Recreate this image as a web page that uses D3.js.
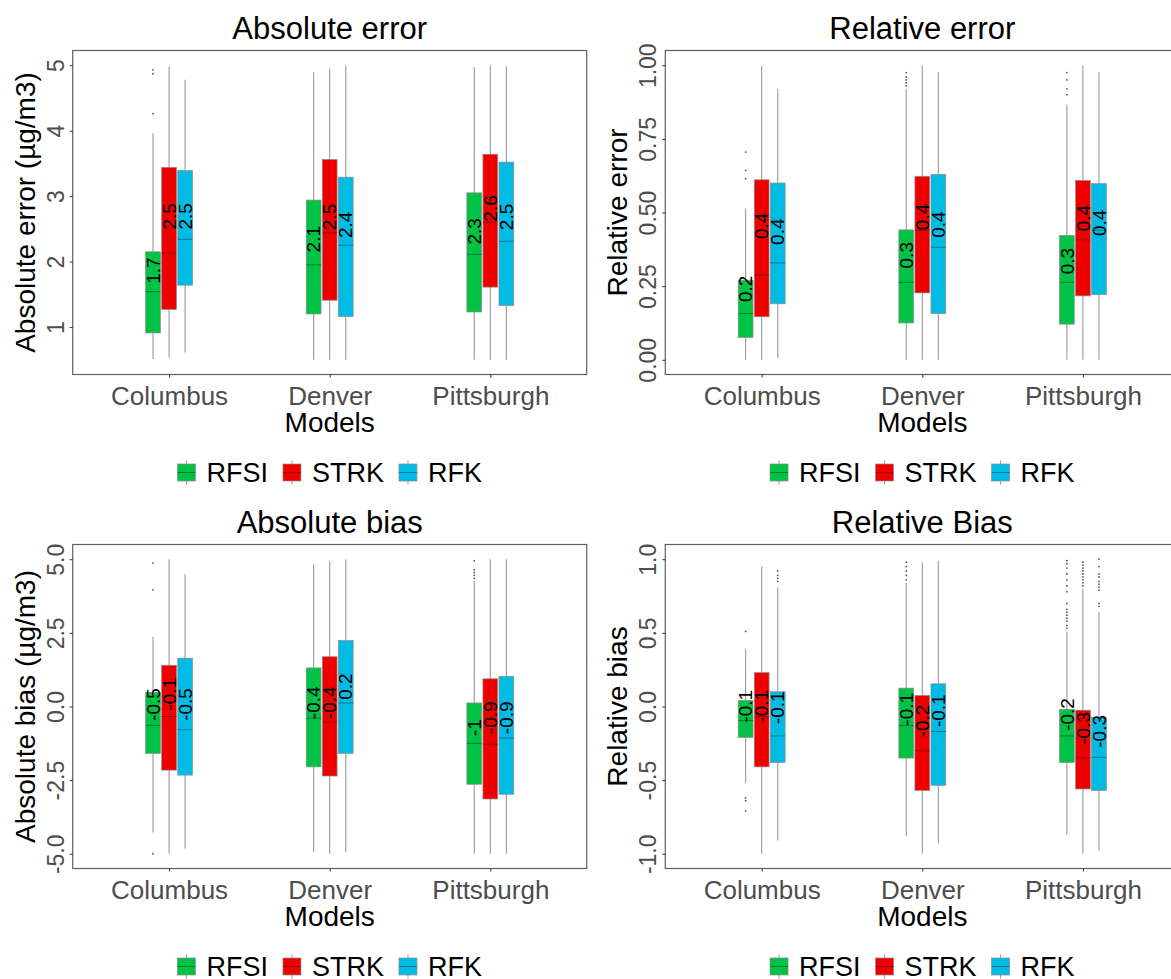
<!DOCTYPE html>
<html>
<head>
<meta charset="utf-8">
<script src="https://cdn.jsdelivr.net/npm/d3@7"></script>
<style>
body { margin: 0; background: #fff; }
svg { display: block; font-family: "Liberation Sans", Arial, sans-serif; }
</style>
</head>
<body>
<div class="viz"></div>
<script>
const width = 1171;
const height = 979;

const cities = ["Columbus", "Denver", "Pittsburgh"];
const models = ["RFSI", "STRK", "RFK"];
const colors = ["#00c244", "#ee0000", "#00bce4"];

// box stats: [lower whisker, q1, median, q3, upper whisker], order = city then model
const absErrBox = [
    [0.51, 0.91, 1.54, 2.15, 3.96],
    [0.53, 1.27, 2.13, 3.44, 4.98],
    [0.61, 1.64, 2.34, 3.39, 4.78],
    [0.50, 1.20, 1.95, 2.94, 4.89],
    [0.50, 1.41, 2.44, 3.56, 4.95],
    [0.50, 1.16, 2.25, 3.29, 5.00],
    [0.50, 1.23, 2.11, 3.05, 4.97],
    [0.50, 1.61, 2.60, 3.64, 5.00],
    [0.50, 1.33, 2.31, 3.52, 4.98]
];
const absErrMean = [1.66, 2.49, 2.49, 2.14, 2.48, 2.36, 2.26, 2.61, 2.48];
const absErrOut = [[4.26, 4.87, 4.93], [], [], [], [], [], [], [], []];
const absErrTicks = [1, 2, 3, 4, 5];

const relErrBox = [
    [0.00, 0.076, 0.157, 0.27, 0.513],
    [0.00, 0.146, 0.288, 0.611, 0.997],
    [0.006, 0.19, 0.329, 0.60, 0.92],
    [0.00, 0.125, 0.263, 0.441, 0.92],
    [0.00, 0.227, 0.44, 0.623, 1.00],
    [0.00, 0.157, 0.382, 0.629, 0.976],
    [0.00, 0.121, 0.263, 0.422, 0.867],
    [0.00, 0.217, 0.407, 0.609, 1.00],
    [0.00, 0.221, 0.44, 0.598, 0.976]
];
const relErrMean = [0.196, 0.41, 0.39, 0.31, 0.44, 0.414, 0.29, 0.436, 0.42];
const relErrOut = [[0.615, 0.643, 0.705], [], [], [0.93, 0.94, 0.95, 0.96, 0.975], [], [], [0.90, 0.92, 0.95, 0.975], [], []];
const relErrTicks = [0, 0.25, 0.5, 0.75, 1];

const absBiasBox = [
    [-4.28, -1.59, -0.64, 0.48, 2.37],
    [-5.00, -2.16, -0.34, 1.40, 5.00],
    [-4.83, -2.33, -0.79, 1.64, 4.49],
    [-4.94, -2.05, -0.40, 1.31, 4.83],
    [-5.00, -2.36, -0.53, 1.69, 4.94],
    [-4.94, -1.59, 0.12, 2.24, 5.00],
    [-5.00, -2.64, -1.25, 0.12, 4.26],
    [-5.00, -3.14, -1.28, 0.94, 5.00],
    [-5.00, -2.98, -1.07, 1.02, 5.00]
];
const absBiasMean = [-0.49, -0.14, -0.49, -0.43, -0.43, 0.23, -1.0, -0.94, -0.94];
const absBiasOut = [[3.96, 4.87, -5.0], [], [], [], [], [], [4.35, 4.45, 4.55, 4.65, 4.95], [], []];
const absBiasTicks = [-5, -2.5, 0, 2.5, 5];

const relBiasBox = [
    [-0.52, -0.21, -0.095, 0.041, 0.39],
    [-1.00, -0.41, -0.07, 0.23, 0.95],
    [-0.91, -0.38, -0.20, 0.10, 0.81],
    [-0.88, -0.35, -0.13, 0.125, 0.84],
    [-1.00, -0.57, -0.30, 0.075, 0.98],
    [-0.93, -0.535, -0.17, 0.154, 0.99],
    [-0.87, -0.38, -0.20, -0.02, 0.51],
    [-1.00, -0.56, -0.35, -0.025, 0.80],
    [-0.98, -0.57, -0.345, -0.073, 0.64]
];
const relBiasMean = [-0.11, -0.11, -0.12, -0.13, -0.21, -0.14, -0.165, -0.26, -0.28];
const relBiasOut = [
    [0.51, -0.62, -0.64, -0.71], [], [0.85, 0.87, 0.89, 0.92],
    [0.86, 0.89, 0.92, 0.95, 0.98], [], [],
    [0.53, 0.55, 0.58, 0.60, 0.62, 0.64, 0.66, 0.70, 0.78, 0.82, 0.86, 0.90, 0.94, 0.97, 0.99],
    [0.82, 0.84, 0.86, 0.88, 0.90, 0.92, 0.94, 0.96, 0.98],
    [0.68, 0.70, 0.79, 0.81, 0.83, 0.85, 0.88, 0.90, 0.95, 1.00]
];
const relBiasTicks = [-1, -0.5, 0, 0.5, 1];

// panel frames
const pw = 514, ph = 324;
const panels = [
    { title: "Absolute error", ylab: "Absolute error (\u00b5g/m3)", box: absErrBox, mean: absErrMean, out: absErrOut, ticks: absErrTicks, fmt: d => String(d), x0: 72.7, y0: 50.5 },
    { title: "Relative error", ylab: "Relative error", box: relErrBox, mean: relErrMean, out: relErrOut, ticks: relErrTicks, fmt: d => d.toFixed(2), x0: 665.3, y0: 50.5 },
    { title: "Absolute bias", ylab: "Absolute bias (\u00b5g/m3)", box: absBiasBox, mean: absBiasMean, out: absBiasOut, ticks: absBiasTicks, fmt: d => d.toFixed(1), x0: 72.7, y0: 544.5 },
    { title: "Relative Bias", ylab: "Relative bias", box: relBiasBox, mean: relBiasMean, out: relBiasOut, ticks: relBiasTicks, fmt: d => d.toFixed(1), x0: 665.3, y0: 544.5 }
];

const svg = d3.select(".viz")
    .append("svg")
    .attr("width", width)
    .attr("height", height);

svg.append("rect").attr("width", width).attr("height", height).attr("fill", "#fff");

function drawPanel(p) {
    const x1 = p.x0 + pw, y1 = p.y0 + ph;
    const cx0 = p.x0 + pw / 2;
    const g = svg.append("g");

    // y range like ggplot: data range + 5%
    const all = p.box.flat().concat(p.out.flat());
    const [lo, hi] = d3.extent(all);
    const pad = (hi - lo) * 0.05;
    const y = d3.scaleLinear().domain([lo - pad, hi + pad]).range([y1, p.y0]);
    const x = d3.scalePoint().domain(cities).range([p.x0, x1]).padding(0.6);
    const step = x.step();
    const dodge = 0.1 * step, bw = 0.092 * step;

    const rows = p.box.map((b, i) => ({
        city: cities[Math.floor(i / 3)], m: i % 3, b: b, mean: p.mean[i], out: p.out[i]
    }));
    const cx = d => x(d.city) + (d.m - 1) * dodge;

    g.append("rect")
        .attr("x", p.x0).attr("y", p.y0)
        .attr("width", pw).attr("height", ph)
        .attr("fill", "#fff")
        .attr("stroke", "#5f5f5f")
        .attr("stroke-width", 1.2);

    // whiskers
    g.selectAll(".whisker")
        .data(rows)
        .join("line")
        .attr("x1", cx).attr("x2", cx)
        .attr("y1", d => y(d.b[0]))
        .attr("y2", d => y(d.b[4]))
        .attr("stroke", "#999")
        .attr("stroke-width", 1.1);

    // boxes
    g.selectAll(".box")
        .data(rows)
        .join("rect")
        .attr("x", d => cx(d) - bw / 2)
        .attr("width", bw)
        .attr("y", d => y(d.b[3]))
        .attr("height", d => y(d.b[1]) - y(d.b[3]))
        .attr("fill", d => colors[d.m])
        .attr("stroke", "#8c8c8c")
        .attr("stroke-width", 0.7);

    // medians
    g.selectAll(".median")
        .data(rows)
        .join("line")
        .attr("x1", d => cx(d) - bw / 2)
        .attr("x2", d => cx(d) + bw / 2)
        .attr("y1", d => y(d.b[2]))
        .attr("y2", d => y(d.b[2]))
        .attr("stroke", "rgba(0,0,0,0.35)")
        .attr("stroke-width", 1);

    // outliers
    const pts = rows.flatMap(d => d.out.map(v => ({ px: cx(d), v: v })));
    g.selectAll(".outlier")
        .data(pts)
        .join("circle")
        .attr("cx", d => d.px)
        .attr("cy", d => y(d.v))
        .attr("r", 0.9)
        .attr("fill", "#555");

    // mean labels, rotated, starting at the mean
    g.selectAll(".meanlab")
        .data(rows)
        .join("text")
        .attr("transform", d => `translate(${cx(d)},${y(d.mean)}) rotate(-90)`)
        .attr("dy", "0.35em")
        .attr("text-anchor", "start")
        .attr("font-size", 19)
        .attr("fill", "#000")
        .text(d => String(Math.round(d.mean * 10) / 10));

    // y axis
    const ya = g.append("g")
        .attr("transform", `translate(${p.x0},0)`)
        .call(d3.axisLeft(y).tickValues(p.ticks).tickFormat(p.fmt).tickSize(3));
    ya.attr("font-family", null).attr("font-size", null);
    ya.select(".domain").remove();
    ya.selectAll(".tick line").attr("stroke", "#333");
    ya.selectAll(".tick text")
        .attr("x", 0).attr("dy", 0)
        .attr("text-anchor", "middle")
        .attr("transform", "translate(-9,0) rotate(-90)")
        .attr("fill", "#4d4d4d")
        .attr("font-size", 23);

    // x axis
    const xa = g.append("g")
        .attr("transform", `translate(0,${y1})`)
        .call(d3.axisBottom(x).tickSize(3));
    xa.attr("font-family", null).attr("font-size", null);
    xa.select(".domain").remove();
    xa.selectAll(".tick line").attr("stroke", "#333");
    xa.selectAll(".tick text")
        .attr("y", 0).attr("dy", 0)
        .attr("transform", "translate(0,30.5)")
        .attr("fill", "#4d4d4d")
        .attr("font-size", 26);

    // titles
    g.append("text")
        .attr("transform", `translate(${cx0},${p.y0 - 12})`)
        .attr("text-anchor", "middle")
        .attr("font-size", 31)
        .text(p.title);

    g.append("text")
        .attr("transform", `translate(${p.x0 - 38},${p.y0 + ph / 2}) rotate(-90)`)
        .attr("text-anchor", "middle")
        .attr("font-size", 28)
        .text(p.ylab);

    g.append("text")
        .attr("transform", `translate(${cx0},${y1 + 57})`)
        .attr("text-anchor", "middle")
        .attr("font-size", 28)
        .text("Models");

    // legend
    const lg = g.append("g");
    let cur = 0;
    models.forEach((m, i) => {
        const it = lg.append("g").attr("transform", `translate(${cur},0)`);
        it.append("line")
            .attr("x1", 9).attr("x2", 9).attr("y1", -12).attr("y2", 12)
            .attr("stroke", "#999");
        it.append("rect")
            .attr("x", 0).attr("y", -8.5).attr("width", 18).attr("height", 17)
            .attr("fill", colors[i]).attr("stroke", "#8c8c8c").attr("stroke-width", 0.7);
        it.append("line")
            .attr("x1", 0).attr("x2", 18).attr("y1", 0).attr("y2", 0)
            .attr("stroke", "rgba(0,0,0,0.35)");
        const t = it.append("text")
            .attr("x", 29).attr("y", 9.5)
            .attr("font-size", 27)
            .text(m);
        cur += 29 + t.node().getComputedTextLength() + 15;
    });
    const total = cur - 15;
    lg.attr("transform", `translate(${cx0 - total / 2},${y1 + 98})`);
}

panels.forEach(drawPanel);
</script>
</body>
</html>
